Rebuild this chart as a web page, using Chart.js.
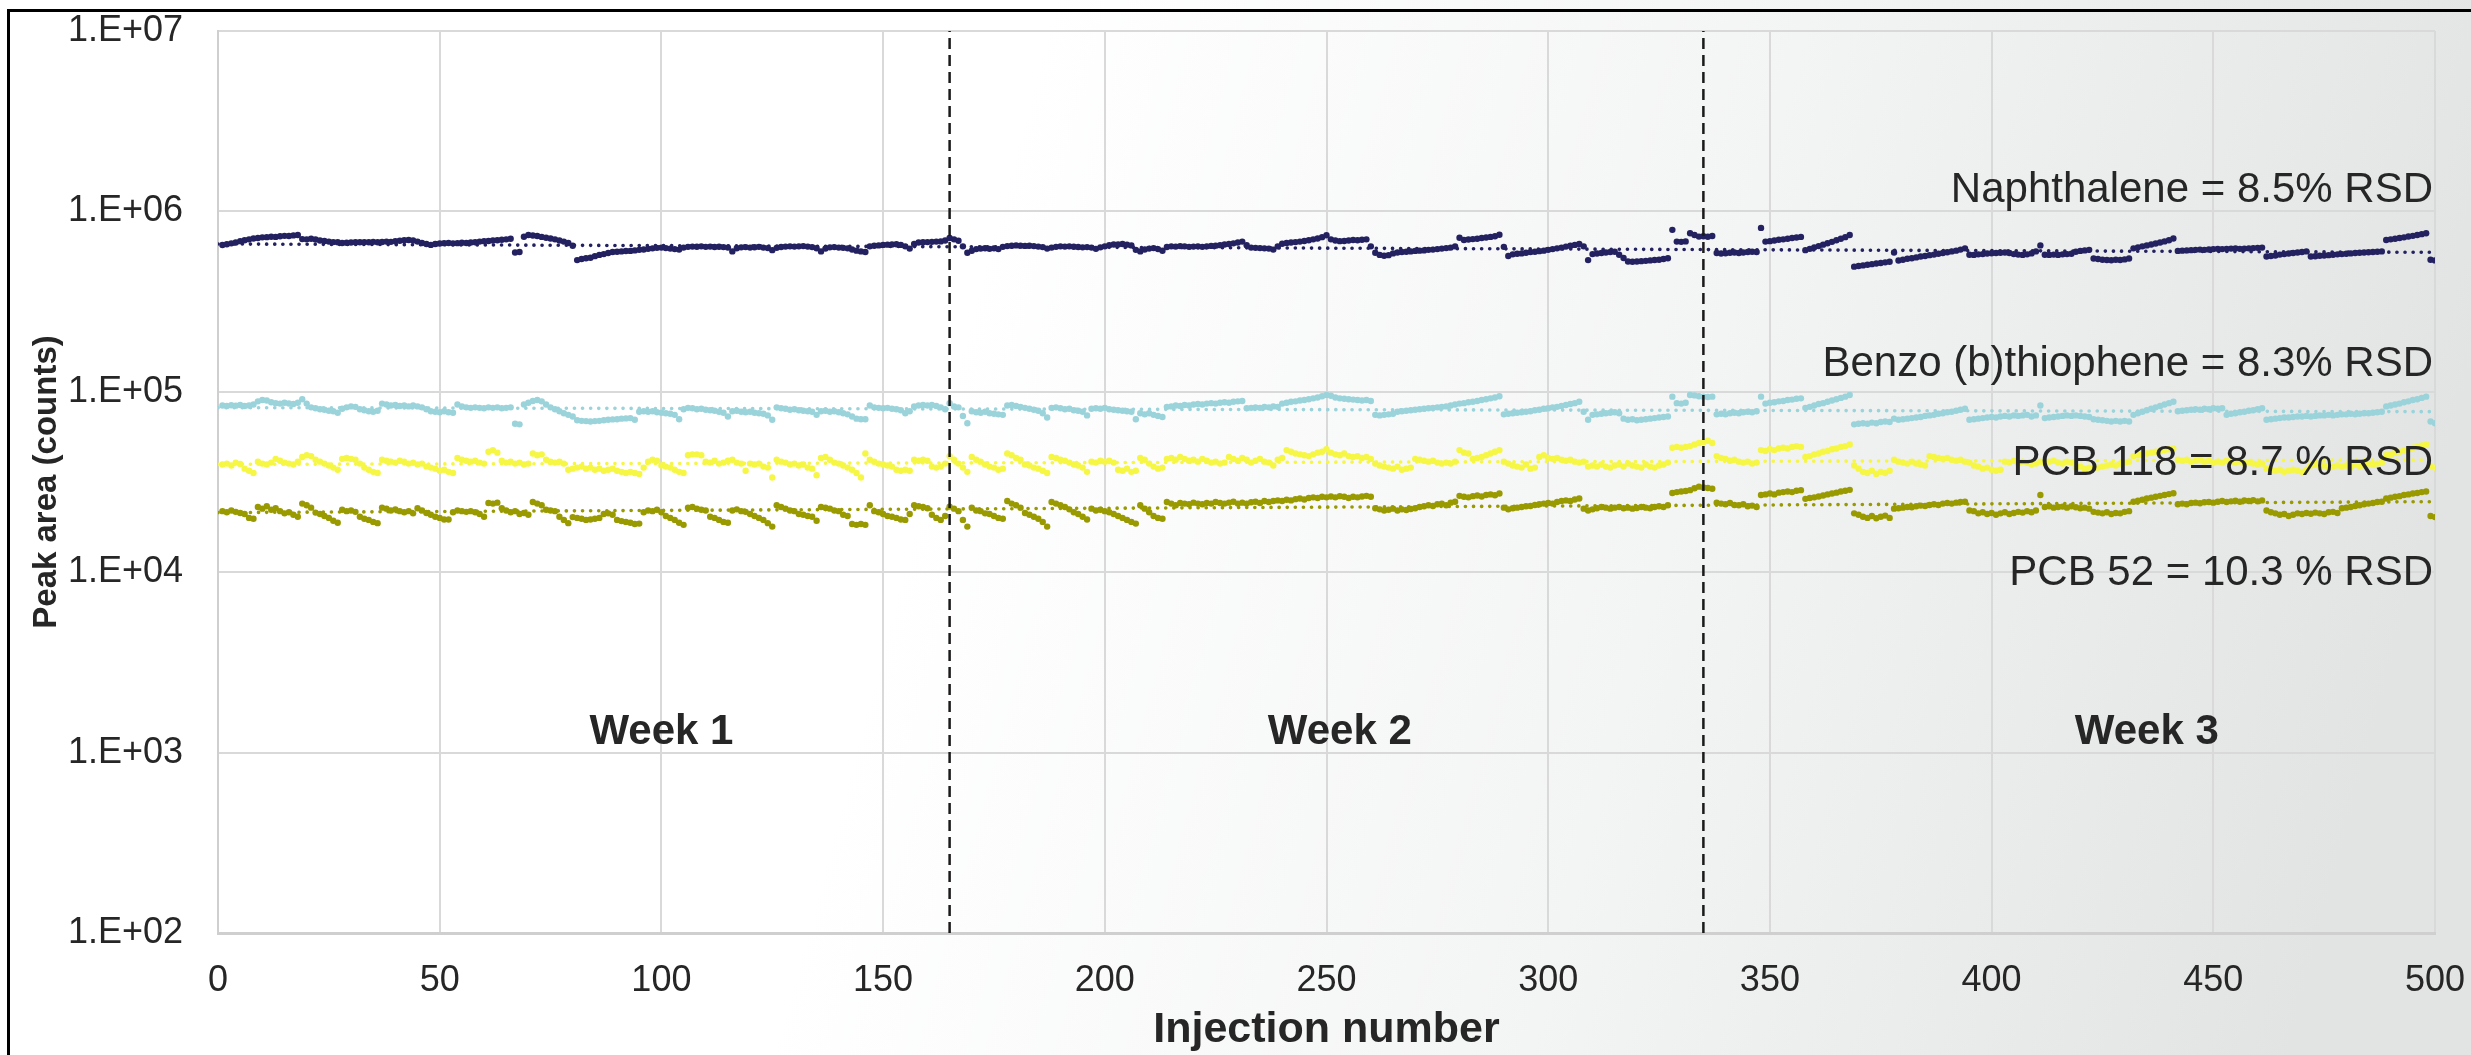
<!DOCTYPE html>
<html>
<head>
<meta charset="utf-8">
<title>Peak area stability</title>
<script src="https://cdn.jsdelivr.net/npm/chart.js@4.4.1/dist/chart.umd.min.js"></script>
<style>
  html, body { margin: 0; padding: 0; background: #fff; }
  canvas { display: block; }
</style>
</head>
<body>
<canvas id="chart" width="2471" height="1055"></canvas>
<script>
// Peak areas per injection, in thousands of counts (injection 1..500)
const naphthalene = [
  651,658,665,672,684,692,700,708,712,718, 720,724,722,728,732,730,736,740,702,700,
  705,698,690,685,680,676,674,668,670,672, 675,674,676,675,678,674,677,680,678,683,
  688,692,694,690,680,668,660,652,660,664, 667,668,665,667,670,668,672,675,680,684,
  686,690,692,696,700,706,592,596,724,740, 735,730,722,715,708,700,690,680,668,645,
  537,545,550,553,565,574,580,588,596,598, 600,603,604,608,612,615,620,624,628,630,
  626,622,618,614,630,636,638,637,640,636, 638,635,637,634,630,600,625,632,634,630,
  633,636,630,626,610,628,635,638,640,638, 640,642,638,634,625,600,622,632,634,630,
  628,624,615,606,600,596,640,645,648,652, 654,655,658,652,640,622,660,672,674,676,
  678,680,682,690,712,700,688,640,590,605, 618,622,625,620,624,618,636,642,645,648,
  646,644,645,642,638,634,622,630,636,640, 638,640,637,635,632,634,630,620,632,640,
  650,655,656,660,654,648,612,600,615,622, 626,618,605,635,640,638,642,640,636,638,
  640,636,640,644,646,650,655,660,665,672, 680,650,630,628,626,624,622,614,640,662,
  668,672,676,680,686,692,700,708,720,738, 700,690,684,686,690,694,692,696,700,640,
  590,574,568,572,585,592,596,598,600,604, 606,608,612,614,618,622,626,630,640,715,
  694,698,702,706,712,716,722,728,742,636, 566,578,582,585,590,595,598,602,606,612,
  618,624,630,638,646,652,660,640,537,580, 584,588,592,596,598,575,552,528,526,528,
  530,532,535,538,540,545,550,790,680,678, 682,756,740,725,728,724,730,588,584,586,
  590,592,588,592,596,598,596,810,680,684, 690,696,700,706,712,716,722,610,620,632,
  642,654,666,678,692,706,720,740,494,498, 502,506,510,514,518,522,526,592,534,540,
  546,550,556,562,566,572,576,582,588,594, 600,606,614,624,575,574,578,580,584,586,
  588,590,592,588,580,576,574,578,585,600, 648,575,574,576,574,578,580,582,598,604,
  608,612,548,545,540,538,536,540,538,542, 548,624,632,640,648,656,664,672,682,692,
  708,604,606,608,610,612,614,612,615,618, 620,618,620,622,624,620,622,624,626,628,
  630,562,566,570,576,580,584,588,592,596, 600,562,564,568,570,572,575,578,580,582,
  585,588,590,592,594,596,598,600,694,700, 706,712,718,726,732,740,748,756,540,535
];
const benzothiophene = [
  84,83.5,84.2,83.8,84.5,83.5,84,85,88.5,90, 89.5,87.5,86.5,86,87,86.2,85.5,87,91,86,
  82,81,80,79.5,78.5,78,76.5,80.5,82,83, 82.5,80,79,78,77.5,78.5,86,85,84,84.5,
  83.5,84,83,84,83,82,80,78,77.5,77, 78,77,76.5,85,83,82,81.5,82,81.5,81,
  82,81.5,82,81,81.5,82,66.5,66,85,87, 89,90,88.5,85,82,80,78,76,74.5,73,
  69.5,69,68.8,68.5,68.8,69,69.5,70,70.3,70.5, 71,71.2,71.5,70,77.5,78,77.5,78,77,76.5,
  76,75.5,74.5,70.5,80,81.5,81,80,80.5,79.5, 79,78.5,77.5,76.5,73,78,78.5,77.5,77,77.5,
  76.5,76,75.5,74,70,82,81,80.5,79.5,80, 79,78.5,78,77.5,74.5,78,78.5,77.5,78,77,
  76,75,73,71,70.5,70.5,84,82,81.5,81, 81.5,80.5,80,79,76,78,83,84,84.5,84,
  84.5,83.5,82,80,86.5,83,82,73.5,67,78, 77,76.5,77.5,76,75.5,75,74.5,84,84.5,83.5,
  82.5,81.5,80.5,79.5,78.5,76,72,81.5,82,81, 80,80.5,79,78.5,77.5,74,80.5,81,80.5,81.5,
  80,79.5,79,78.5,78,77.5,70.5,76,75,76, 74.5,73.5,72.5,82.5,83,84,83.5,84.5,84,85,
  85.5,85,86,86.5,86,87,87.5,87,88,88.5, 89,81,81.5,82,81.5,82.5,82,83,82.5,86,
  87,88,88.5,89.5,90,91,92,93,94.5,96, 95,93,92,91.5,91,90.5,90,89.5,90,89,
  74.5,74,74.5,75,75.5,77.5,78,78.5,79,79.5, 80,80.5,81,81.5,82,82.5,83,84,85,86,
  86.5,87.5,88,89,90,91,92,93,94.5,75, 75.5,76,76.5,77,77.5,78,79,79.5,80.5,81,
  82,82.5,83.5,84.5,85.5,86.5,88,77.5,70,74.5, 75,75.5,76,76.5,77,76,71,70,70.5,69.5,
  70,70.5,71,71.5,72,72.5,73,94,86.5,86, 87,96,95.5,94.5,94,93.5,94,75,75.5,75,
  76,76.5,76,77,77.5,77,78,94,86,87, 87.5,88.5,89,90,90.5,91.5,92,81.5,82.5,84,
  85.5,86.5,88,89.5,91,92.5,94,96,66,66.5, 67,66.5,67.5,67,68,68.5,68,71,70,70.5,
  71,71.5,72,72.5,73.5,74,74.5,75.5,76,77, 77.5,78.5,79.5,80.5,70,70.5,71,71.5,72,72.5,
  72,73,73.5,73,74,73.5,74,74.5,73,74, 84,71.5,72,72.5,73,73.5,74,73.5,74,73.5,
  73,72.5,70.5,70,69.5,69,68.5,69,68.5,69, 68.5,74.5,76,77.5,79,80.5,82,83.5,85,86.5,
  88,78,78.5,79,79.5,80,79.5,80.5,80,81, 80.5,81,74.5,75.5,76,77,77.5,78.5,79,80,
  81,70,70.5,71,71.5,72,72,72.5,73,73, 73.5,73,73.5,74,74,74.5,74,74.5,75,75,
  75.5,75,75.5,76,76,76.5,77,77.5,83,84, 85,86,87.5,88.5,90,91,92.5,94,68.5,67
];
const pcb118 = [
  39.5,40,39,40.5,39.8,37.5,36.5,35.5,41,40, 39.5,40.5,42.5,41.5,40.5,40,39.5,41,43.5,44.5,
  44,42,41,40,39,38,37,42.5,43,42.5, 42,40,38,37,36,35.5,42,41.5,41,40.5,
  41.5,41,40,40.5,39.5,40,38.5,38,37.5,36.5, 37,36,35.5,43,42,41.5,41,41.5,40.5,40,
  46.5,47.5,46,41.5,40.5,41,40,40.5,39.5,40, 45.5,44.5,45,42,41,40.5,41,40,37,37.5,
  38,38.5,37.5,38,37,37.5,36.5,37,37.5,36.5, 36,35.5,36,35.5,35,38,41,42,41.5,39,
  38.5,38,37,36,35.5,44.5,45,45,44.5,41, 40.5,41.5,40,40.5,41.5,42,40.5,40,36.5,40,
  39.5,40,38.5,38,33.5,42,41,40.5,39.5,40, 39,39.5,38,37.5,34.5,43,43.5,42,40.5,40,
  39,38,37,35.5,33.5,45.5,42,41,40,39.5, 39,38.5,37,36.5,37,36.5,42,41.5,42,41.5,
  38.5,38,38.5,40,44,42,40,38,36,43.5, 42,41,39.5,38.5,38,37,37.5,45.5,44.5,43,
  42,39.5,39,38,37.5,36.5,35.5,43.5,43,42, 41.5,40.5,39.5,39,38,36,41,40.5,41.5,41,
  41.5,40.5,37,36.5,37.5,36,36.5,43,42,40, 38.5,37.5,38,42.5,43,42,43.5,42.5,41.5,42,
  41,42.5,41.5,40.5,41,40,40.5,43.5,42.5,41.5, 43,42,40.5,41.5,42.5,41,40.5,39,42,43,
  47.5,46.5,45.5,45,44.5,44,45,46,46.5,48, 46,45,44.5,45.5,44,43.5,44,43,43.5,42.5,
  40,39,38.5,38,37.5,38.5,37,37.5,38,42.5, 42,41.5,41,41.5,40.5,40,40.5,40,41,47.5,
  46,45.5,42.5,43,43.5,44.5,45.5,46.5,47.5,41, 40,39,38.5,38,39.5,37.5,38,43.5,44.5,43,
  42.5,43,42,41.5,42,41,40.5,41,38.5,39, 38.5,39.5,38.5,38,39,39.5,38.5,40,39,38.5,
  38,39.5,38.5,38,39,39.5,40.5,49,49.5,49, 49.5,50,51,52,52.5,53.5,52,44,43,42.5,
  41.5,42,41,40.5,41,40,40.5,47.5,47,48, 47.5,48.5,49,48.5,49.5,50,49.5,43.5,44,45,
  45.5,46.5,47,48,48.5,49.5,50,51,39,37.5, 36,35.5,36.5,35,36,35.5,36.5,42,41,40.5,
  40,41,40,39.5,39,44,43.5,43,42.5,43, 42,41.5,42,41,40.5,39,38.5,37.5,38,37,
  36.5,37,41,40.5,41.5,40,41,40.5,39.5,40, 41,40.5,41,41.5,40.5,40,41,40.5,38,38.5,
  37.5,38,37.5,38,38.5,39,39.5,39,40,40.5, 41,44,44.5,45,45.5,46,46.5,47,47.5,48,
  48.5,42,41.5,42,41,41.5,42,41,41.5,40.5, 41,40.5,41.5,41,40.5,41,40,40.5,40,39.5,
  40,37.5,37,36.5,37,36,36.5,37,36.5,36, 37,39,39.5,38.5,39,38,38.5,39,38.5,39,
  38,39.5,38.5,39,40,39.5,40,40.5,44.5,45, 46,46.5,47.5,48,49,50,50.5,51,38.5,38
];
const pcb52 = [
  21.8,21.5,22,21.6,21.3,21,20,19.8,23,22.5, 23.2,22.2,22.6,21.8,21.2,21.5,20.8,20.3,24,23.5,
  22.8,21.4,21,20.5,20,19.3,18.8,22.2,21.8,22, 21.6,20.3,19.8,19.5,19,18.7,22.8,22.5,22,22.3,
  21.8,21.5,21.8,21.2,22.6,22,21.3,20.8,20.3,20, 19.6,19.6,21.5,22,21.8,21.6,21.8,21.5,21,20.3,
  24.2,24,24.3,22.6,22,21.5,21.8,21,21.3,20.8, 24.5,24,23.5,22.2,22,21.8,20.3,19.5,18.7,20.2,
  20,19.8,19.5,19.6,19.8,20,21,21.2,20.8,19.5, 19.2,19,18.8,18.5,18.6,21.5,22,21.8,22.2,21.5,
  20.5,20,19.5,18.8,18.3,22.8,23,22.5,22.2,22, 20.3,20,19.5,19,18.8,22,22.3,21.8,21.6,21,
  20.5,20,19.5,18.7,17.9,23.5,23,22.5,22,21.8, 21,20.8,20.5,20.3,19.3,23,22.8,22.5,22,21.8,
  20.8,20.5,18.5,18.3,18.5,18.3,23.5,21.8,21.5,21, 20.5,20.3,20,19.6,19.5,21,23.5,23.2,23,22.6,
  20.8,20,19.5,20.5,23.1,22.5,21.8,19.5,17.9,22.8, 22,21.8,21.2,21,20.5,20,19.8,24.8,24,23.5,
  22.8,21.3,20.8,20.3,19.8,19,17.9,24.5,24,23.5, 23,22.3,21.5,21,20.3,19.6,22.5,22,22.2,21.8,
  21.5,21,20.5,20,19.5,19,18.6,23.5,22.5,21.5, 20.5,20,19.8,24.5,24,23.5,24.2,24,23.8,24.3,
  24,23.8,24.2,24,24.5,24.2,24,24.3,24.6,24, 24.3,24,24.4,24.6,24.2,24.8,24.5,24.8,25,24.8,
  25.2,25,25.4,25.6,25.3,25.8,26,25.8,26.2,26, 26.3,26,26.4,26.2,25.8,26.2,26,26.3,26.5,26.2,
  22.6,22.3,22,22.2,22.5,22,22.3,22.1,22.4,22.6, 23,23.2,23.5,23.3,23.8,24,23.5,24.3,24.6,26.5,
  26.2,26,26.4,26.6,26.3,26.8,27,26.7,27.3,22.8, 22.3,22.6,22.8,23,23.2,23.3,23.6,23.8,24,24.2,
  24,24.5,24.8,25,24.8,25.3,25.6,22.5,22,22.3, 22.6,23,22.8,22.5,22.8,23,22.6,22.8,22.5,22.7,
  23,22.8,22.6,23,23.2,23,23.5,27.5,27.8,28, 28.2,28.5,29.2,29.8,29.5,29.3,29,24.3,24,23.8,
  24.2,23.6,23.5,23.8,23.2,23.4,23,26.8,27,27.3, 27,27.6,27.8,28,27.8,28.3,28.5,25.5,25.8,26,
  26.3,26.6,27,27.3,27.6,28,28.3,28.6,21.2,20.8, 20.3,20,20.5,19.9,20.3,20.6,20,22.5,22.6,22.8,
  23,22.9,23.2,23.4,23.3,23.6,23.8,23.6,24,24.2, 24,24.3,24.5,24.6,22,21.8,21.2,21.5,21,21.3,
  20.8,21.2,21.5,21,21.3,21.6,21.4,21.8,21.5,22, 26.8,23,23.2,22.8,23,23.1,22.8,23.2,22.9,22.6,
  22.8,22.5,21.6,21.4,21.2,21.5,21,21.3,21.2,21.6, 21.8,24.6,24.9,25.2,25.6,25.9,26.2,26.5,26.8,27.1,
  27.4,23.8,24,23.8,24.2,24.3,24.1,24.4,24.5,24.3, 24.6,24.8,24.5,24.7,24.9,24.6,25,24.8,25.1,24.7,
  25,22,21.5,21.2,20.8,21,20.5,20.8,21.2,21, 21.3,21.1,21.4,21.2,21,21.5,21.6,21.3,22.6,22.8,
  23,23.3,23.5,23.8,24,24.2,24.5,24.6,25.6,25.9, 26.2,26.4,26.8,27,27.3,27.5,27.8,28,20.5,20.2
];

// Dotted trend lines: value at injection 0 and 500 (thousands)
const trendX = [0, 500];
const naphTrend = [660, 593];
const benzoTrend = [81.7, 77.6];
const pcb118Trend = [39.6, 41.9];
const pcb52Trend = [21.4, 24.6];

// Week boundaries (injection number) and labels
const weekBounds = [165, 335];
const weekLabels = ['Week 1', 'Week 2', 'Week 3'];
const weekCenters = [100, 253, 435];
const weekLabelY = 1300;

const rsdLabels = [
  'Naphthalene = 8.5% RSD',
  'Benzo (b)thiophene = 8.3% RSD',
  'PCB 118 = 8.7 % RSD',
  'PCB 52 = 10.3 % RSD'
];
const rsdLabelY = [1.3e6, 1.42e5, 4.03e4, 0.99e4];

const xTicks = [0, 50, 100, 150, 200, 250, 300, 350, 400, 450, 500];
const yTicks = [1e2, 1e3, 1e4, 1e5, 1e6, 1e7];

const FONT = "'Liberation Sans', Arial, sans-serif";
const TEXT = '#262626';

const toPoints = arr => arr.map((v, i) => ({ x: i + 1, y: v * 1000 }));
const trendPoints = arr => arr.map((v, i) => ({ x: trendX[i], y: v * 1000 }));

function scatterSet(label, data, color) {
    return {
        label: label,
        data: toPoints(data),
        backgroundColor: color,
        borderWidth: 0,
        pointRadius: 3.2,
        showLine: false,
        order: 1
    };
}

function trendSet(data, color) {
    return {
        data: trendPoints(data),
        borderColor: color,
        borderWidth: 3.6,
        borderDash: [0.1, 8],
        borderCapStyle: 'round',
        pointRadius: 0,
        showLine: true,
        order: 2
    };
}

const boundSets = weekBounds.map(b => ({
    data: [{ x: b, y: yTicks[0] }, { x: b, y: yTicks[yTicks.length - 1] }],
    borderColor: '#1a1a1a',
    borderWidth: 2.5,
    borderDash: [11, 6],
    pointRadius: 0,
    showLine: true,
    order: 0
}));

// Background gradient and the black frame at left/top
const backdrop = {
    id: 'backdrop',
    beforeDraw(chart) {
        const { ctx, width, height } = chart;
        ctx.save();
        const g = ctx.createLinearGradient(1050, 0, 2471, 380);
        g.addColorStop(0, '#ffffff');
        g.addColorStop(0.5, '#f3f4f4');
        g.addColorStop(1, '#e2e4e4');
        ctx.fillStyle = g;
        ctx.fillRect(0, 0, width, height);
        ctx.fillStyle = '#000000';
        ctx.fillRect(7, 9, width - 7, 3);
        ctx.fillRect(7, 9, 3, height - 9);
        ctx.restore();
    }
};

// Week labels, RSD labels and axis titles
const labels = {
    id: 'labels',
    afterDatasetsDraw(chart) {
        const { ctx, chartArea, scales } = chart;
        const x = scales.x, y = scales.y;
        ctx.save();
        ctx.fillStyle = TEXT;
        ctx.textBaseline = 'middle';

        ctx.font = `bold 42px ${FONT}`;
        ctx.textAlign = 'center';
        weekLabels.forEach((t, i) => {
            ctx.fillText(t, x.getPixelForValue(weekCenters[i]), y.getPixelForValue(weekLabelY));
        });

        ctx.font = `42px ${FONT}`;
        ctx.textAlign = 'right';
        rsdLabels.forEach((t, i) => {
            ctx.fillText(t, x.getPixelForValue(500) - 2, y.getPixelForValue(rsdLabelY[i]));
        });

        ctx.font = `bold 43px ${FONT}`;
        ctx.textAlign = 'center';
        ctx.fillText('Injection number', (chartArea.left + chartArea.right) / 2, 1030);

        ctx.translate(47, (chartArea.top + chartArea.bottom) / 2);
        ctx.rotate(-Math.PI / 2);
        ctx.font = `bold 33px ${FONT}`;
        ctx.fillText('Peak area (counts)', 0, 0);
        ctx.restore();
    }
};

new Chart(document.getElementById('chart'), {
    type: 'scatter',
    data: {
        datasets: [
            scatterSet('Naphthalene', naphthalene, '#232160'),
            scatterSet('Benzo (b)thiophene', benzothiophene, '#9bd3db'),
            scatterSet('PCB 118', pcb118, '#f6f645'),
            scatterSet('PCB 52', pcb52, '#999900'),
            trendSet(naphTrend, '#232160'),
            trendSet(benzoTrend, '#9bd3db'),
            trendSet(pcb118Trend, '#f6f645'),
            trendSet(pcb52Trend, '#999900'),
            ...boundSets
        ]
    },
    options: {
        responsive: false,
        devicePixelRatio: 1,
        animation: false,
        layout: { autoPadding: false, padding: { top: 31, right: 36, left: 0, bottom: 0 } },
        plugins: {
            legend: { display: false },
            tooltip: { enabled: false }
        },
        scales: {
            x: {
                type: 'linear',
                min: 0,
                max: 500,
                afterBuildTicks: s => { s.ticks = xTicks.map(v => ({ value: v })); },
                afterFit: s => {
                    s.height = 122;
                    s.paddingLeft = 0;
                    s.paddingRight = 0;
                },
                ticks: {
                    color: TEXT,
                    font: { family: FONT, size: 36 },
                    padding: 26,
                    autoSkip: false,
                    maxRotation: 0
                },
                grid: { color: '#d9d9d9', lineWidth: 2, drawTicks: false },
                border: { color: '#cfcfcf', width: 3 }
            },
            y: {
                type: 'logarithmic',
                min: 100,
                max: 1e7,
                afterBuildTicks: s => { s.ticks = yTicks.map(v => ({ value: v })); },
                afterFit: s => {
                    s.width = 218;
                    s.paddingTop = 0;
                    s.paddingBottom = 0;
                },
                ticks: {
                    color: TEXT,
                    font: { family: FONT, size: 36 },
                    padding: 35,
                    autoSkip: false,
                    callback: v => '1.E+' + String(Math.round(Math.log10(v))).padStart(2, '0')
                },
                grid: { color: '#d9d9d9', lineWidth: 2, drawTicks: false },
                border: { color: '#cfcfcf', width: 2 }
            }
        }
    },
    plugins: [backdrop, labels]
});
</script>
</body>
</html>
